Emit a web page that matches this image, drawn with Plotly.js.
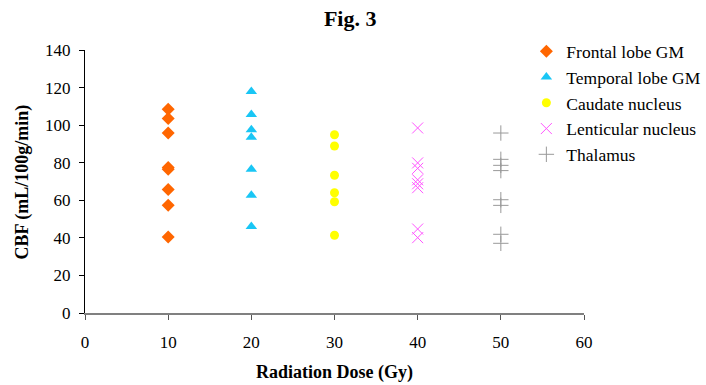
<!DOCTYPE html>
<html><head><meta charset="utf-8">
<script src="https://cdn.plot.ly/plotly-3.0.1.min.js"></script>
<style>body{margin:0;background:#fff}#c{width:706px;height:385px}</style>
</head><body><div id="c"></div>
<script>
var seriesNames = ['Frontal lobe GM','Temporal lobe GM','Caudate nucleus','Lenticular nucleus','Thalamus'];
var frontalX = [10,10,10,10,10,10,10,10];
var frontalY = [108.5,103.6,95.8,77.5,76.5,65.7,57.4,40.5];
var temporalX = [20,20,20,20,20,20,20];
var temporalY = [117.9,105.7,97.6,93.5,76.5,62.7,46.1];
var caudateX = [30,30,30,30,30,30];
var caudateY = [94.9,88.9,73.3,64.0,59.2,41.4];
var lenticularX = [40,40,40,40,40,40,40,40];
var lenticularY = [98.5,79.9,77.0,70.9,68.8,66.7,44.7,40.1];
var thalamusX = [50,50,50,50,50,50,50,50];
var thalamusY = [95.8,81.8,78.6,75.8,60.3,57.3,41.9,37.1];
var xTicks = [0,10,20,30,40,50,60];
var yTicks = [0,20,40,60,80,100,120,140];

var font = 'Liberation Serif, Times New Roman, serif';
function tr(x,y,name,marker,g){
  return {x:x,y:y,name:name,type:'scatter',mode:'markers',marker:marker,legendgroup:g,cliponaxis:false};
}
var data = [
  tr(frontalX,frontalY,seriesNames[0],{symbol:'diamond',size:10,color:'#FF6600'},'a'),
  tr(temporalX,temporalY,seriesNames[1],{symbol:'triangle-up',size:10,color:'#19C6F5'},'b'),
  tr(caudateX,caudateY,seriesNames[2],{symbol:'circle',size:9,color:'#FFFF00'},'c'),
  tr(lenticularX,lenticularY,seriesNames[3],{symbol:'x-thin',size:11,color:'#FF55FF',line:{color:'#FF55FF',width:1}},'d'),
  tr(thalamusX,thalamusY,seriesNames[4],{symbol:'cross-thin',size:11,color:'#999999',line:{color:'#999999',width:1}},'e')
];
var layout = {
  width:706,height:385,
  margin:{l:85,r:122,t:50,b:72,autoexpand:false},
  paper_bgcolor:'#fff',plot_bgcolor:'#fff',
  font:{family:font,size:17,color:'#000'},
  title:{text:'<b>Fig. 3</b>',x:0.496,xanchor:'center',y:0.953,yanchor:'middle',font:{family:font,size:22,color:'#000'}},
  xaxis:{range:[0,60],tickvals:xTicks,ticktext:xTicks.map(String),showgrid:false,zeroline:false,
    showline:true,linecolor:'#808080',linewidth:2,ticks:'outside',ticklen:5,tickcolor:'#555',tickwidth:1,
    tickfont:{family:font,size:17},ticklabelstandoff:8,
    title:{text:'<b>Radiation Dose (Gy)</b>',font:{family:font,size:18}}},
  yaxis:{range:[0,140],tickvals:yTicks,ticktext:yTicks.map(String),showgrid:false,zeroline:false,
    showline:true,linecolor:'#000',linewidth:1,ticks:'outside',ticklen:5,tickcolor:'#000',tickwidth:1,
    tickfont:{family:font,size:17},ticklabelstandoff:5},
  annotations:[{text:'<b>CBF (mL/100g/min)</b>',xref:'paper',yref:'paper',x:-0.1243,y:0.5,
    xanchor:'center',yanchor:'middle',textangle:-90,showarrow:false,font:{family:font,size:18,color:'#000'}}],
  showlegend:true,
  legend:{x:0.8845,xanchor:'left',y:1.063,yanchor:'top',font:{family:font,size:17.5,color:'#000'},
    tracegroupgap:0,itemwidth:30,bgcolor:'rgba(0,0,0,0)'}
};
Plotly.newPlot('c',data,layout,{staticPlot:true});
</script></body></html>
